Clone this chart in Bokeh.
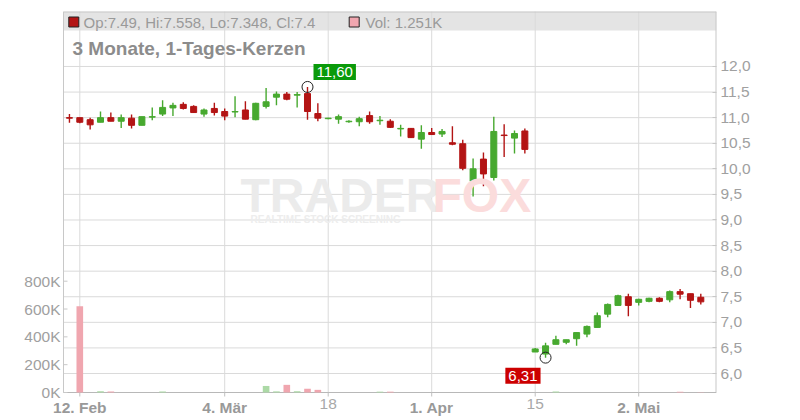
from bokeh.plotting import figure
from bokeh.models import (Range1d, FixedTicker, CustomJSTickFormatter,
                          Label, BoxAnnotation, ColumnDataSource)
from bokeh.embed import file_html
from bokeh.resources import INLINE

# ---------------- data ----------------
day_index = list(range(-1, 61))   # trading-day index, 0 = 12. Feb 2019
opens = [11.00, 11.00, 10.96, 10.91, 11.00, 10.93, 10.99, 10.85, 11.01, 11.07,
         11.19, 11.26, 11.22, 11.07, 11.18, 11.12, 11.11, 11.15, 10.96, 11.22,
         11.40, 11.46, 11.44, 11.47, 11.08, 10.98, 10.97, 10.92, 10.92, 11.04,
         10.94, 10.93, 10.78, 10.79, 10.58, 10.71, 10.68, 10.51, 10.49, 9.76,
         10.19, 9.83, 10.66, 10.60, 10.74, 6.42, 6.38, 6.57, 6.61, 6.68,
         6.77, 6.90, 7.16, 7.33, 7.50, 7.39, 7.41, 7.47, 7.44, 7.60,
         7.56, 7.49]
highs = [11.07, 11.00, 11.00, 11.12, 11.10, 11.06, 11.06, 11.02, 11.20, 11.34,
         11.29, 11.30, 11.24, 11.18, 11.29, 11.18, 11.42, 11.32, 11.29, 11.58,
         11.51, 11.50, 11.50, 11.60, 11.28, 11.00, 11.06, 10.95, 11.02, 11.12,
         11.03, 10.97, 10.86, 10.80, 10.85, 10.80, 10.78, 10.83, 10.57, 10.20,
         10.32, 11.02, 10.87, 10.75, 10.79, 6.50, 6.60, 6.74, 6.66, 6.80,
         6.94, 7.19, 7.37, 7.54, 7.56, 7.46, 7.48, 7.49, 7.62, 7.65,
         7.56, 7.558]
lows = [10.90, 10.89, 10.77, 10.91, 10.93, 10.80, 10.79, 10.85, 10.95, 11.03,
        11.03, 11.16, 11.09, 11.02, 11.04, 10.95, 11.01, 10.97, 10.95, 11.18,
        11.24, 11.34, 11.20, 10.96, 10.93, 10.97, 10.88, 10.90, 10.83, 10.88,
        10.86, 10.80, 10.63, 10.60, 10.39, 10.66, 10.62, 10.46, 9.97, 9.46,
        9.66, 9.77, 10.23, 10.30, 10.30, 6.42, 6.31, 6.57, 6.57, 6.54,
        6.71, 6.90, 7.10, 7.33, 7.12, 7.33, 7.39, 7.39, 7.39, 7.45,
        7.28, 7.348]
closes = [10.99, 10.91, 10.86, 11.00, 10.93, 11.00, 10.85, 11.02, 11.02, 11.20,
          11.24, 11.18, 11.10, 11.15, 11.10, 11.03, 11.12, 10.97, 11.28, 11.31,
          11.46, 11.36, 11.45, 11.12, 10.99, 10.99, 11.02, 10.93, 10.98, 10.92,
          10.95, 10.81, 10.79, 10.61, 10.71, 10.67, 10.73, 10.48, 10.01, 10.00,
          9.90, 10.73, 10.65, 10.69, 10.38, 6.48, 6.54, 6.66, 6.66, 6.80,
          6.92, 7.13, 7.35, 7.52, 7.33, 7.45, 7.47, 7.41, 7.60, 7.55,
          7.43, 7.40]
volumes = [0, 620000, 0, 9000, 8000, 0, 0, 0, 0, 8000,
           0, 0, 0, 0, 0, 0, 0, 0, 0, 47000,
           8000, 55000, 9000, 27000, 19000, 0, 0, 0, 0, 0,
           6000, 6000, 0, 0, 0, 0, 0, 0, 0, 0,
           0, 0, 0, 0, 0, 0, 0, 7000, 0, 0,
           0, 0, 0, 0, 0, 0, 0, 0, 0, 6000,
           0, 1251]
tick_idx = [0, 14, 24, 34, 44, 54]
tick_labels = ["12. Feb", "4. Mär", "18", "1. Apr", "15", "2. Mai"]
tick_bold = [True, True, False, True, False, True]
price_ticks = [6.0, 6.5, 7.0, 7.5, 8.0, 8.5, 9.0, 9.5, 10.0, 10.5, 11.0, 11.5, 12.0]
vol_ticks = [0, 200000, 400000, 600000, 800000]
title_text = "3 Monate, 1-Tages-Kerzen"

# ---------------- styles / layout ----------------
RED, GREEN = "#b31414", "#47a92f"
RED_V, GREEN_V = "#f0a6af", "#acd9a6"
GRID, EDGE = "#dadada", "#c8c8c8"
LABEL_GREY = "#a0a0a0"
FONT = "Liberation Sans"
W, H = 792, 416
PLOT_L, PLOT_R, PLOT_T = 63, 716, 11      # visible plot box (canvas px)
AXIS_B = 392                              # visible bottom axis line
# the bokeh frame spans the whole canvas left of the price axis so that the
# left-hand labels and the date labels are not clipped
FRAME_L, FRAME_R, FRAME_T, FRAME_B = 0, PLOT_R, PLOT_T, H
PX_PER_DAY = 10.35
PX_PER_UNIT = 51.17
VOL_PER_PX = 800000 / 111.3
X_AT_79 = 0.0                              # 12. Feb sits at canvas x 79.3


def dx(px):
    return X_AT_79 + (px - 79.3) / PX_PER_DAY


def dy(py):
    return 6.0 + (373 - py) / PX_PER_UNIT


def dv(py):
    return (AXIS_B - py) * VOL_PER_PX


X0, X1 = dx(FRAME_L), dx(FRAME_R)
Y0, Y1 = dy(FRAME_B), dy(FRAME_T)
XL = dx(PLOT_L)
Y_AXIS = dy(AXIS_B)

p = figure(width=W, height=H, x_range=Range1d(X0, X1), y_range=Range1d(Y0, Y1),
           x_axis_location=None, y_axis_location="right",
           output_backend="svg", toolbar_location=None,
           min_border_left=FRAME_L, min_border_right=W - FRAME_R,
           min_border_top=FRAME_T, min_border_bottom=0)
p.outline_line_color = None
p.background_fill_color = "white"
p.border_fill_color = "white"
for g in p.xgrid:
    g.visible = False
for g in p.ygrid:
    g.visible = False
p.extra_y_ranges = {"vol": Range1d(dv(FRAME_B), dv(FRAME_T))}

ups = [c >= o for o, c in zip(opens, closes)]
src = ColumnDataSource(dict(
    x=day_index, open=opens, high=highs, low=lows, close=closes,
    btop=[max(o, c) for o, c in zip(opens, closes)],
    bbot=[min(o, c) for o, c in zip(opens, closes)],
    color=[GREEN if u else RED for u in ups],
    vcolor=[GREEN_V if u else RED_V for u in ups],
    vol=volumes,
))

# header band
band = BoxAnnotation(left=XL, right=X1, bottom=dy(30), top=Y1, fill_color="#e4e4e4",
                     fill_alpha=1, line_color=None, level="underlay")
p.add_layout(band)

# grid lines
n_p, n_t = len(price_ticks), len(tick_idx)
p.segment(x0=[XL] * n_p, x1=[X1] * n_p, y0=price_ticks, y1=price_ticks,
          line_color=GRID, line_width=1)
p.segment(x0=tick_idx, x1=tick_idx, y0=[Y_AXIS] * n_t, y1=[Y1] * n_t,
          line_color=GRID, line_width=1)

# plot box edges, bottom axis line and tick marks
p.segment(x0=[XL, X1], x1=[X1, X1], y0=[Y1, Y_AXIS], y1=[Y1, Y1],
          line_color=EDGE, line_width=2)
p.segment(x0=[XL], x1=[XL], y0=[Y_AXIS], y1=[Y1], line_color=EDGE, line_width=1)
p.segment(x0=[XL], x1=[X1], y0=[Y_AXIS], y1=[Y_AXIS], line_color="#b8b8b8", line_width=1)
p.segment(x0=tick_idx, x1=tick_idx, y0=[Y_AXIS] * n_t, y1=[dy(AXIS_B + 4)] * n_t,
          line_color="#c0c0c0", line_width=1)

# volume
p.vbar(x="x", top="vol", bottom=0, width=0.64, fill_color="vcolor", line_color=None,
       y_range_name="vol", source=src)

# candles
p.segment(x0="x", y0="low", x1="x", y1="high", line_color="color", line_width=1.4, source=src)
p.vbar(x="x", top="btop", bottom="bbot", width=0.58, fill_color="color", line_color="color",
       line_width=1, source=src)

# price axis (right)
ya = p.yaxis[0]
ya.ticker = FixedTicker(ticks=price_ticks)
ya.formatter = CustomJSTickFormatter(code="return tick.toFixed(1).replace('.', ',');")
ya.major_tick_in = 4
ya.major_tick_out = 0
ya.minor_tick_line_color = None
ya.axis_line_color = None
ya.major_tick_line_color = EDGE
ya.major_label_text_color = LABEL_GREY
ya.major_label_text_font = FONT
ya.major_label_text_font_size = "15.5px"
ya.major_label_standoff = 4

# volume scale (left): tick marks and labels
n_v = len(vol_ticks)
p.segment(x0=[XL] * n_v, x1=[dx(PLOT_L + 4)] * n_v, y0=vol_ticks, y1=vol_ticks,
          line_color=EDGE, line_width=1, y_range_name="vol")
for v in vol_ticks:
    p.add_layout(Label(x=dx(PLOT_L - 3), y=v, y_range_name="vol",
                       text=f"{v / 1000:.0f}K", text_align="right", text_baseline="middle",
                       text_font=FONT, text_font_size="15.5px", text_color=LABEL_GREY))

# date labels (month starts bold)
for t, lab, b in zip(tick_idx, tick_labels, tick_bold):
    p.add_layout(Label(x=t, y=dy(AXIS_B + 6), text=lab, text_align="center",
                       text_baseline="top", text_font=FONT, text_font_size="15.5px",
                       text_font_style="bold" if b else "normal",
                       text_color="#999999" if b else "#a8a8a8"))

# watermark
p.add_layout(Label(x=dx(240), y=dy(195), text="TRADER", text_font=FONT, text_font_size="48px",
                   text_font_style="bold", text_color="#ebebeb", text_baseline="middle"))
p.add_layout(Label(x=dx(432), y=dy(195), text="FOX", text_font=FONT, text_font_size="48px",
                   text_font_style="bold", text_color="#fbdcdc", text_baseline="middle"))
p.add_layout(Label(x=dx(250), y=dy(219), text="REALTIME STOCK SCREENING", text_font=FONT,
                   text_font_size="10px", text_font_style="bold", text_color="#ededed",
                   text_baseline="middle"))

# header legend
p.scatter(x=[dx(73.3), dx(353.7)], y=[dy(21.5), dy(21.5)], marker="square", size=10,
          fill_color=[RED, RED_V], line_color="#222222", line_width=1)
ohlc_text = f"Op:{opens[-1]}, Hi:{highs[-1]}, Lo:{lows[-1]}, Cl:{closes[-1]}"
vol_text = f"Vol: {volumes[-1] / 1000:.3f}K"
p.add_layout(Label(x=dx(83), y=dy(21.5), text=ohlc_text, text_font=FONT, text_font_size="15px",
                   text_color="#9a9a9a", text_baseline="middle"))
p.add_layout(Label(x=dx(365), y=dy(21.5), text=vol_text, text_font=FONT, text_font_size="15px",
                   text_color="#9a9a9a", text_baseline="middle"))

# title
p.add_layout(Label(x=dx(72), y=dy(47.5), text=title_text, text_font=FONT, text_font_size="19px",
                   text_font_style="bold", text_color="#8c8c8c", text_baseline="middle"))

# high / low markers
i_hi = max(range(len(highs)), key=lambda k: highs[k])
i_lo = min(range(len(lows)), key=lambda k: lows[k])
p.scatter(x=[day_index[i_hi], day_index[i_lo]], y=[highs[i_hi], lows[i_lo]], marker="circle",
          size=11, fill_color=None, line_color="#222222", line_width=1)
p.add_layout(Label(x=day_index[i_hi], y=highs[i_hi], x_offset=6, y_offset=7,
                   text=f"{highs[i_hi]:.2f}".replace(".", ","), text_align="left",
                   text_baseline="bottom", text_font=FONT, text_font_size="15px",
                   text_color="white", background_fill_color="#0a9a0a", padding=3))
p.add_layout(Label(x=day_index[i_lo], y=lows[i_lo], x_offset=-5, y_offset=-10,
                   text=f"{lows[i_lo]:.2f}".replace(".", ","), text_align="right",
                   text_baseline="top", text_font=FONT, text_font_size="15px",
                   text_color="white", background_fill_color="#cc0000", padding=3))

open("out.html", "w").write(file_html(p, INLINE))
